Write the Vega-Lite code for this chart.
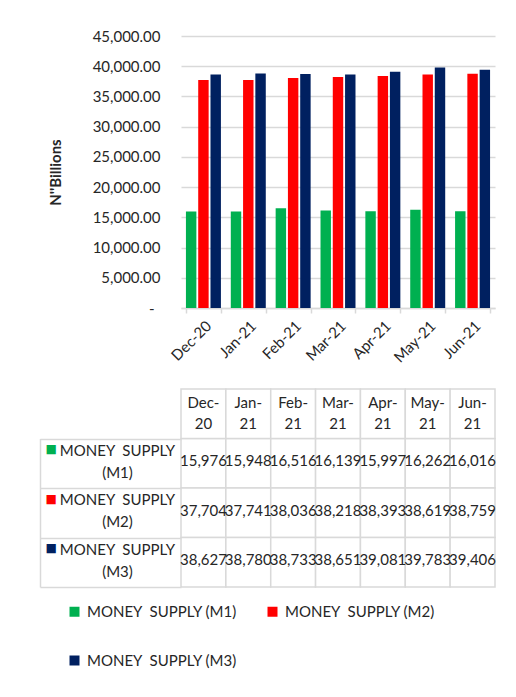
{
  "$schema": "https://vega.github.io/schema/vega-lite/v6.json",
  "padding": {"left": 39, "top": 29, "right": 0, "bottom": 0},
  "background": "white",
  "data": {
    "values": [
      {"month": "Dec-20", "series": "MONEY SUPPLY (M1)", "value": 15976},
      {"month": "Jan-21", "series": "MONEY SUPPLY (M1)", "value": 15948},
      {"month": "Feb-21", "series": "MONEY SUPPLY (M1)", "value": 16516},
      {"month": "Mar-21", "series": "MONEY SUPPLY (M1)", "value": 16139},
      {"month": "Apr-21", "series": "MONEY SUPPLY (M1)", "value": 15997},
      {"month": "May-21", "series": "MONEY SUPPLY (M1)", "value": 16262},
      {"month": "Jun-21", "series": "MONEY SUPPLY (M1)", "value": 16016},
      {"month": "Dec-20", "series": "MONEY SUPPLY (M2)", "value": 37704},
      {"month": "Jan-21", "series": "MONEY SUPPLY (M2)", "value": 37741},
      {"month": "Feb-21", "series": "MONEY SUPPLY (M2)", "value": 38036},
      {"month": "Mar-21", "series": "MONEY SUPPLY (M2)", "value": 38218},
      {"month": "Apr-21", "series": "MONEY SUPPLY (M2)", "value": 38393},
      {"month": "May-21", "series": "MONEY SUPPLY (M2)", "value": 38619},
      {"month": "Jun-21", "series": "MONEY SUPPLY (M2)", "value": 38759},
      {"month": "Dec-20", "series": "MONEY SUPPLY (M3)", "value": 38627},
      {"month": "Jan-21", "series": "MONEY SUPPLY (M3)", "value": 38780},
      {"month": "Feb-21", "series": "MONEY SUPPLY (M3)", "value": 38733},
      {"month": "Mar-21", "series": "MONEY SUPPLY (M3)", "value": 38651},
      {"month": "Apr-21", "series": "MONEY SUPPLY (M3)", "value": 39081},
      {"month": "May-21", "series": "MONEY SUPPLY (M3)", "value": 39783},
      {"month": "Jun-21", "series": "MONEY SUPPLY (M3)", "value": 39406}
    ]
  },
  "spacing": 81,
  "bounds": "flush",
  "vconcat": [
    {
      "width": 314,
      "height": 272,
      "mark": {"type": "bar"},
      "encoding": {
        "x": {
          "field": "month", "type": "nominal",
          "sort": ["Dec-20", "Jan-21", "Feb-21", "Mar-21", "Apr-21", "May-21", "Jun-21"],
          "scale": {"paddingInner": 0.22, "paddingOuter": 0.11},
          "axis": {"title": null, "labelAngle": -45, "tickBand": "extent", "tickSize": 5, "tickColor": "#d9d9d9", "tickWidth": 1.5, "domainColor": "#d9d9d9", "domainWidth": 1.5, "labelFontSize": 15, "labelPadding": 5}
        },
        "xOffset": {"field": "series", "type": "nominal", "scale": {"paddingInner": 0.15}},
        "y": {
          "field": "value", "type": "quantitative",
          "scale": {"domain": [0, 45000], "nice": false},
          "axis": {
            "title": "N''Billions",
            "values": [0, 5000, 10000, 15000, 20000, 25000, 30000, 35000, 40000, 45000],
            "labelExpr": "datum.value == 0 ? '-' : format(datum.value, ',.2f')",
            "labelPadding": {"condition": {"test": "datum.value == 0", "value": 27}, "value": 21},
            "domain": false, "ticks": false,
            "gridColor": "#d9d9d9", "gridWidth": 1.5,
            "labelFontSize": 15,
            "titleFontWeight": "bold", "titleFontSize": 15, "titlePadding": 29
          }
        },
        "color": {
          "field": "series", "type": "nominal",
          "scale": {"domain": ["MONEY SUPPLY (M1)", "MONEY SUPPLY (M2)", "MONEY SUPPLY (M3)"], "range": ["#00B050", "#FF0000", "#002060"]},
          "legend": {
            "title": null, "orient": "none", "legendX": -114, "legendY": 568,
            "columns": 2, "direction": "horizontal",
            "labelExpr": "replace(datum.label, 'MONEY ', 'MONEY\u00a0 ')",
            "symbolType": "square", "symbolSize": 100, "symbolStrokeWidth": 0,
            "labelFontSize": 15, "labelOffset": 5, "columnPadding": 28, "rowPadding": 33
          }
        }
      }
    },
    {
      "width": 314,
      "height": 198,
      "layer": [
        {
          "mark": {"type": "rect", "fill": "white", "stroke": "#d9d9d9", "strokeWidth": 1.5},
          "encoding": {
            "x": {"field": "month", "type": "nominal", "sort": ["Dec-20", "Jan-21", "Feb-21", "Mar-21", "Apr-21", "May-21", "Jun-21"], "scale": {"paddingInner": 0, "paddingOuter": 0}, "axis": null},
            "y": {
              "field": "series", "type": "nominal",
              "scale": {"domain": ["hdr", "MONEY SUPPLY (M1)", "MONEY SUPPLY (M2)", "MONEY SUPPLY (M3)"], "paddingInner": 0, "paddingOuter": 0},
              "axis": {
                "title": null, "orient": "left", "offset": 141,
                "domainColor": "#d9d9d9", "domainWidth": 1.5, "domainDash": [0, 49.5, 300, 0],
                "tickBand": "extent", "tickSize": -141, "tickColor": "#d9d9d9", "tickWidth": 1.5,
                "tickOpacity": {"condition": {"test": "datum.value == null", "value": 0}, "value": 1},
                "labelExpr": "datum.value == null || datum.value == 'hdr' ? '' : ['MONEY\u00a0 SUPPLY', '(' + split(datum.value, '(')[1]]",
                "labelAlign": "center", "labelBaseline": "middle", "labelPadding": 64, "labelOffset": -13,
                "labelFontSize": 15, "labelLineHeight": 22, "labelLimit": 200
              }
            }
          }
        },
        {
          "transform": [{"filter": "datum.series == 'MONEY SUPPLY (M1)'"}],
          "mark": {"type": "rect", "fill": "white", "stroke": "#d9d9d9", "strokeWidth": 1.5},
          "encoding": {
            "x": {"field": "month", "type": "nominal", "sort": ["Dec-20", "Jan-21", "Feb-21", "Mar-21", "Apr-21", "May-21", "Jun-21"]},
            "y": {"datum": "hdr", "type": "nominal", "axis": null}
          }
        },
        {
          "transform": [
            {"filter": "datum.series == 'MONEY SUPPLY (M1)'"},
            {"calculate": "[split(datum.month, '-')[0] + '-', split(datum.month, '-')[1]]", "as": "hdr"}
          ],
          "mark": {"type": "text", "fontSize": 15, "lineHeight": 21, "baseline": "middle", "dy": -11, "color": "#262626"},
          "encoding": {
            "x": {"field": "month", "type": "nominal", "sort": ["Dec-20", "Jan-21", "Feb-21", "Mar-21", "Apr-21", "May-21", "Jun-21"]},
            "y": {"datum": "hdr", "type": "nominal", "axis": null},
            "text": {"field": "hdr", "type": "nominal"}
          }
        },
        {
          "mark": {"type": "text", "fontSize": 15, "baseline": "middle", "dy": -2, "color": "#262626"},
          "encoding": {
            "x": {"field": "month", "type": "nominal", "sort": ["Dec-20", "Jan-21", "Feb-21", "Mar-21", "Apr-21", "May-21", "Jun-21"]},
            "y": {
              "field": "series", "type": "nominal",
              "axis": {
                "title": null, "orient": "left", "offset": 141, "domain": false, "ticks": false,
                "labelExpr": "datum.value == null || datum.value == 'hdr' ? '' : '■'",
                "labelFont": "DejaVu Sans", "labelFontSize": 12,
                "labelColor": {"condition": [
                  {"test": "datum.value == 'MONEY SUPPLY (M1)'", "value": "#00B050"},
                  {"test": "datum.value == 'MONEY SUPPLY (M2)'", "value": "#FF0000"}
                ], "value": "#002060"},
                "labelAlign": "left", "labelBaseline": "middle", "labelPadding": -5, "labelOffset": -14
              }
            },
            "text": {"field": "value", "type": "quantitative", "format": ",.0f"}
          }
        }
      ],
      "resolve": {"axis": {"y": "independent"}}
    }
  ],
  "config": {
    "font": "Lato",
    "view": {"stroke": null},
    "axis": {"labelColor": "#262626", "titleColor": "#262626"},
    "legend": {"labelColor": "#262626"}
  }
}
